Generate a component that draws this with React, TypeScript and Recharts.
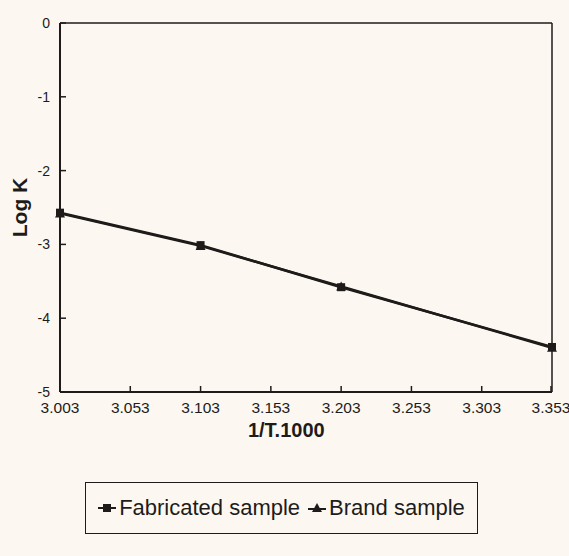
import React from "react";
import { LineChart, Line, XAxis, YAxis, Legend, ReferenceLine } from "recharts";

const invT = [3.003, 3.103, 3.203, 3.353];
const fabricated = [-2.57, -3.01, -3.58, -4.39];
const brand = [-2.58, -3.02, -3.57, -4.4];
const xTicks = [3.003, 3.053, 3.103, 3.153, 3.203, 3.253, 3.303, 3.353];
const yTicks = [0, -1, -2, -3, -4, -5];

const data = invT.map((x, i) => ({ x, fabricated: fabricated[i], brand: brand[i] }));

const INK = "#1e1b1a";
const FONT = "'Liberation Sans', Arial, sans-serif";

// ticks point into the plot, labels sit outside
const XTick = (props: any) => {
    const { x, y, payload } = props;
    return (
        <g>
            <line x1={x} y1={y} x2={x} y2={y - 6} stroke={INK} strokeWidth={1.5} />
            <text x={x} y={y + 21} textAnchor="middle" fontSize={15.5} fill={INK} fontFamily={FONT}>
                {payload.value.toFixed(3)}
            </text>
        </g>
    );
};

const YTick = (props: any) => {
    const { x, y, payload } = props;
    return (
        <g>
            <line x1={x} y1={y} x2={x + 6} y2={y} stroke={INK} strokeWidth={1.5} />
            <text x={x - 10} y={y + 5} textAnchor="end" fontSize={14} fill={INK} fontFamily={FONT}>
                {payload.value}
            </text>
        </g>
    );
};

const XLabel = (props: any) => {
    const { viewBox } = props;
    const cx = viewBox.x + viewBox.width * 0.46;
    return (
        <text x={cx} y={viewBox.y + 45} textAnchor="middle" fontSize={20} fontWeight="bold" fill={INK} fontFamily={FONT}>
            1/T.1000
        </text>
    );
};

const YLabel = (props: any) => {
    const { viewBox } = props;
    const cy = viewBox.y + viewBox.height / 2;
    return (
        <text
            x={27}
            y={cy}
            transform={`rotate(-90, 27, ${cy})`}
            textAnchor="middle"
            fontSize={21}
            fontWeight="bold"
            fill={INK}
            fontFamily={FONT}
        >
            Log K
        </text>
    );
};

const Square = (props: any) => {
    const { cx, cy } = props;
    return <rect x={cx - 4} y={cy - 4} width={8} height={8} fill={INK} />;
};

const Triangle = (props: any) => {
    const { cx, cy } = props;
    return <path d={`M${cx},${cy - 5} L${cx + 5},${cy + 4} L${cx - 5},${cy + 4} Z`} fill={INK} />;
};

const LegendBox = () => (
    <div
        style={{
            border: `1.5px solid ${INK}`,
            height: 52,
            display: "flex",
            alignItems: "center",
            justifyContent: "center",
            fontFamily: FONT,
            fontSize: 22,
            color: INK,
            boxSizing: "border-box",
        }}
    >
        <svg width={18} height={14}>
            <line x1={0} y1={7} x2={18} y2={7} stroke={INK} strokeWidth={2} />
            <rect x={5} y={3} width={8} height={8} fill={INK} />
        </svg>
        <span style={{ marginLeft: 3, marginRight: 8 }}>Fabricated sample</span>
        <svg width={18} height={14}>
            <line x1={0} y1={8} x2={18} y2={8} stroke={INK} strokeWidth={2} />
            <path d="M9,2 L14,11 L4,11 Z" fill={INK} />
        </svg>
        <span style={{ marginLeft: 3 }}>Brand sample</span>
    </div>
);

export default function App() {
    return (
        <div style={{ position: "fixed", left: 0, top: 0, width: 569, height: 556, background: "#fcf8f1", overflow: "hidden" }}>
            <LineChart
                width={569}
                height={556}
                data={data}
                margin={{ top: 23, right: 17, left: 0, bottom: 0 }}
                style={{ overflow: "visible" }}
            >
                <XAxis
                    dataKey="x"
                    type="number"
                    domain={[3.003, 3.353]}
                    ticks={xTicks}
                    tick={<XTick />}
                    tickLine={false}
                    tickSize={0}
                    tickMargin={0}
                    axisLine={{ stroke: INK, strokeWidth: 2 }}
                    height={164}
                    label={<XLabel />}
                />
                <YAxis
                    type="number"
                    domain={[-5, 0]}
                    ticks={yTicks}
                    tick={<YTick />}
                    tickLine={false}
                    tickSize={0}
                    tickMargin={0}
                    axisLine={{ stroke: INK, strokeWidth: 2 }}
                    width={60}
                    label={<YLabel />}
                />
                <ReferenceLine y={0} stroke={INK} strokeWidth={1.5} />
                <ReferenceLine x={3.353} stroke={INK} strokeWidth={1.5} />
                <Legend
                    layout="horizontal"
                    verticalAlign="middle"
                    align="center"
                    content={<LegendBox />}
                    wrapperStyle={{ top: 482, left: 85, width: 393, height: 52 }}
                />
                <Line
                    dataKey="fabricated"
                    name="Fabricated sample"
                    stroke={INK}
                    strokeWidth={2.5}
                    dot={<Square />}
                    isAnimationActive={false}
                />
                <Line
                    dataKey="brand"
                    name="Brand sample"
                    stroke={INK}
                    strokeWidth={2.5}
                    dot={<Triangle />}
                    isAnimationActive={false}
                />
            </LineChart>
        </div>
    );
}
